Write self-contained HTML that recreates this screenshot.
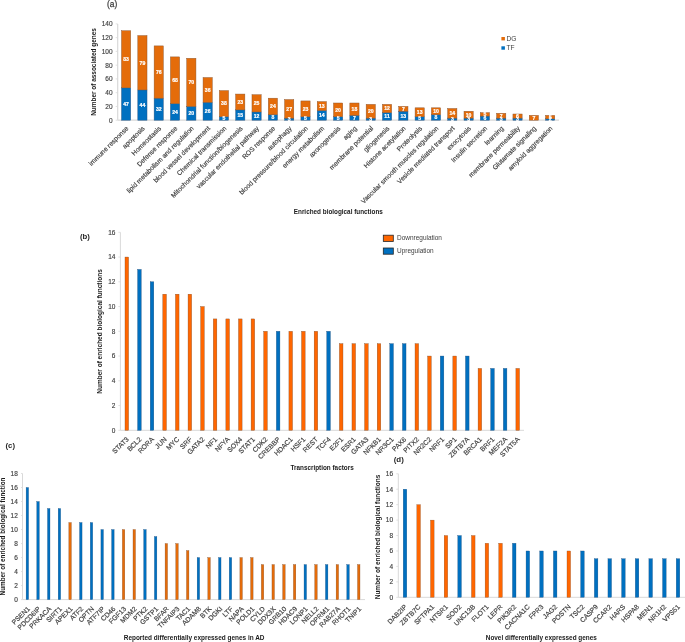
<!DOCTYPE html>
<html><head><meta charset="utf-8"><style>
html,body{margin:0;padding:0;background:#fff;}
body{width:685px;height:642px;overflow:hidden;}
svg{display:block;font-family:"Liberation Sans", sans-serif;will-change:transform;}
</style></head><body>
<svg width="685" height="642" viewBox="0 0 685 642">
<rect width="685" height="642" fill="#fff"/>
<line x1="117.70" y1="23.88" x2="117.70" y2="120.20" stroke="#d9d9d9" stroke-width="1.2"/>
<line x1="115.70" y1="120.20" x2="117.70" y2="120.20" stroke="#d9d9d9" stroke-width="0.8"/>
<text x="112.60" y="122.55" font-size="6.5" text-anchor="end" font-weight="normal" fill="#404040" stroke="#404040" stroke-width="0.15">0</text>
<line x1="115.70" y1="106.44" x2="117.70" y2="106.44" stroke="#d9d9d9" stroke-width="0.8"/>
<text x="112.60" y="108.79" font-size="6.5" text-anchor="end" font-weight="normal" fill="#404040" stroke="#404040" stroke-width="0.15">20</text>
<line x1="115.70" y1="92.68" x2="117.70" y2="92.68" stroke="#d9d9d9" stroke-width="0.8"/>
<text x="112.60" y="95.03" font-size="6.5" text-anchor="end" font-weight="normal" fill="#404040" stroke="#404040" stroke-width="0.15">40</text>
<line x1="115.70" y1="78.92" x2="117.70" y2="78.92" stroke="#d9d9d9" stroke-width="0.8"/>
<text x="112.60" y="81.27" font-size="6.5" text-anchor="end" font-weight="normal" fill="#404040" stroke="#404040" stroke-width="0.15">60</text>
<line x1="115.70" y1="65.16" x2="117.70" y2="65.16" stroke="#d9d9d9" stroke-width="0.8"/>
<text x="112.60" y="67.51" font-size="6.5" text-anchor="end" font-weight="normal" fill="#404040" stroke="#404040" stroke-width="0.15">80</text>
<line x1="115.70" y1="51.40" x2="117.70" y2="51.40" stroke="#d9d9d9" stroke-width="0.8"/>
<text x="112.60" y="53.75" font-size="6.5" text-anchor="end" font-weight="normal" fill="#404040" stroke="#404040" stroke-width="0.15">100</text>
<line x1="115.70" y1="37.64" x2="117.70" y2="37.64" stroke="#d9d9d9" stroke-width="0.8"/>
<text x="112.60" y="39.99" font-size="6.5" text-anchor="end" font-weight="normal" fill="#404040" stroke="#404040" stroke-width="0.15">120</text>
<line x1="115.70" y1="23.88" x2="117.70" y2="23.88" stroke="#d9d9d9" stroke-width="0.8"/>
<text x="112.60" y="26.23" font-size="6.5" text-anchor="end" font-weight="normal" fill="#404040" stroke="#404040" stroke-width="0.15">140</text>
<line x1="117.70" y1="120.20" x2="559.00" y2="120.20" stroke="#d9d9d9" stroke-width="1.2"/>
<rect x="121.50" y="87.86" width="9.20" height="32.34" fill="#0070C0" stroke="#2a5580" stroke-width="0.45"/>
<rect x="121.50" y="30.76" width="9.20" height="57.10" fill="#E46C0A" stroke="#8a5530" stroke-width="0.45"/>
<text x="126.10" y="105.83" font-size="5.1" text-anchor="middle" font-weight="bold" fill="#ffffff" stroke="#ffffff" stroke-width="0.2">47</text>
<text x="126.10" y="61.11" font-size="5.1" text-anchor="middle" font-weight="bold" fill="#ffffff" stroke="#ffffff" stroke-width="0.2">83</text>
<text x="0" y="0" transform="translate(128.90,128.80) rotate(-45)" font-size="6.65" text-anchor="end" font-weight="normal" fill="#404040" stroke="#404040" stroke-width="0.17">immune response</text>
<rect x="137.81" y="89.93" width="9.20" height="30.27" fill="#0070C0" stroke="#2a5580" stroke-width="0.45"/>
<rect x="137.81" y="35.58" width="9.20" height="54.35" fill="#E46C0A" stroke="#8a5530" stroke-width="0.45"/>
<text x="142.41" y="106.86" font-size="5.1" text-anchor="middle" font-weight="bold" fill="#ffffff" stroke="#ffffff" stroke-width="0.2">44</text>
<text x="142.41" y="64.55" font-size="5.1" text-anchor="middle" font-weight="bold" fill="#ffffff" stroke="#ffffff" stroke-width="0.2">79</text>
<text x="0" y="0" transform="translate(145.21,128.80) rotate(-45)" font-size="6.65" text-anchor="end" font-weight="normal" fill="#404040" stroke="#404040" stroke-width="0.17">apoptosis</text>
<rect x="154.12" y="98.18" width="9.20" height="22.02" fill="#0070C0" stroke="#2a5580" stroke-width="0.45"/>
<rect x="154.12" y="45.90" width="9.20" height="52.29" fill="#E46C0A" stroke="#8a5530" stroke-width="0.45"/>
<text x="158.72" y="110.99" font-size="5.1" text-anchor="middle" font-weight="bold" fill="#ffffff" stroke="#ffffff" stroke-width="0.2">32</text>
<text x="158.72" y="73.84" font-size="5.1" text-anchor="middle" font-weight="bold" fill="#ffffff" stroke="#ffffff" stroke-width="0.2">76</text>
<text x="0" y="0" transform="translate(161.52,128.80) rotate(-45)" font-size="6.65" text-anchor="end" font-weight="normal" fill="#404040" stroke="#404040" stroke-width="0.17">Homeostasis</text>
<rect x="170.43" y="103.69" width="9.20" height="16.51" fill="#0070C0" stroke="#2a5580" stroke-width="0.45"/>
<rect x="170.43" y="56.90" width="9.20" height="46.78" fill="#E46C0A" stroke="#8a5530" stroke-width="0.45"/>
<text x="175.03" y="113.74" font-size="5.1" text-anchor="middle" font-weight="bold" fill="#ffffff" stroke="#ffffff" stroke-width="0.2">24</text>
<text x="175.03" y="82.10" font-size="5.1" text-anchor="middle" font-weight="bold" fill="#ffffff" stroke="#ffffff" stroke-width="0.2">68</text>
<text x="0" y="0" transform="translate(177.83,128.80) rotate(-45)" font-size="6.65" text-anchor="end" font-weight="normal" fill="#404040" stroke="#404040" stroke-width="0.17">Defense response</text>
<rect x="186.74" y="106.44" width="9.20" height="13.76" fill="#0070C0" stroke="#2a5580" stroke-width="0.45"/>
<rect x="186.74" y="58.28" width="9.20" height="48.16" fill="#E46C0A" stroke="#8a5530" stroke-width="0.45"/>
<text x="191.34" y="115.12" font-size="5.1" text-anchor="middle" font-weight="bold" fill="#ffffff" stroke="#ffffff" stroke-width="0.2">20</text>
<text x="191.34" y="84.16" font-size="5.1" text-anchor="middle" font-weight="bold" fill="#ffffff" stroke="#ffffff" stroke-width="0.2">70</text>
<text x="0" y="0" transform="translate(194.14,128.80) rotate(-45)" font-size="6.65" text-anchor="end" font-weight="normal" fill="#404040" stroke="#404040" stroke-width="0.17">lipid metabolism and regulation</text>
<rect x="203.05" y="102.31" width="9.20" height="17.89" fill="#0070C0" stroke="#2a5580" stroke-width="0.45"/>
<rect x="203.05" y="77.54" width="9.20" height="24.77" fill="#E46C0A" stroke="#8a5530" stroke-width="0.45"/>
<text x="207.65" y="113.06" font-size="5.1" text-anchor="middle" font-weight="bold" fill="#ffffff" stroke="#ffffff" stroke-width="0.2">26</text>
<text x="207.65" y="91.73" font-size="5.1" text-anchor="middle" font-weight="bold" fill="#ffffff" stroke="#ffffff" stroke-width="0.2">36</text>
<text x="0" y="0" transform="translate(210.45,128.80) rotate(-45)" font-size="6.65" text-anchor="end" font-weight="normal" fill="#404040" stroke="#404040" stroke-width="0.17">blood vessel development</text>
<rect x="219.36" y="116.76" width="9.20" height="3.44" fill="#0070C0" stroke="#2a5580" stroke-width="0.45"/>
<rect x="219.36" y="90.62" width="9.20" height="26.14" fill="#E46C0A" stroke="#8a5530" stroke-width="0.45"/>
<text x="223.96" y="120.28" font-size="5.1" text-anchor="middle" font-weight="bold" fill="#ffffff" stroke="#ffffff" stroke-width="0.2">5</text>
<text x="223.96" y="105.49" font-size="5.1" text-anchor="middle" font-weight="bold" fill="#ffffff" stroke="#ffffff" stroke-width="0.2">38</text>
<text x="0" y="0" transform="translate(226.76,128.80) rotate(-45)" font-size="6.65" text-anchor="end" font-weight="normal" fill="#404040" stroke="#404040" stroke-width="0.17">Chemical transmission</text>
<rect x="235.67" y="109.88" width="9.20" height="10.32" fill="#0070C0" stroke="#2a5580" stroke-width="0.45"/>
<rect x="235.67" y="94.06" width="9.20" height="15.82" fill="#E46C0A" stroke="#8a5530" stroke-width="0.45"/>
<text x="240.27" y="116.84" font-size="5.1" text-anchor="middle" font-weight="bold" fill="#ffffff" stroke="#ffffff" stroke-width="0.2">15</text>
<text x="240.27" y="103.77" font-size="5.1" text-anchor="middle" font-weight="bold" fill="#ffffff" stroke="#ffffff" stroke-width="0.2">23</text>
<text x="0" y="0" transform="translate(243.07,128.80) rotate(-45)" font-size="6.65" text-anchor="end" font-weight="normal" fill="#404040" stroke="#404040" stroke-width="0.17">Mitochondrial function/biogenesis</text>
<rect x="251.98" y="111.94" width="9.20" height="8.26" fill="#0070C0" stroke="#2a5580" stroke-width="0.45"/>
<rect x="251.98" y="94.74" width="9.20" height="17.20" fill="#E46C0A" stroke="#8a5530" stroke-width="0.45"/>
<text x="256.58" y="117.87" font-size="5.1" text-anchor="middle" font-weight="bold" fill="#ffffff" stroke="#ffffff" stroke-width="0.2">12</text>
<text x="256.58" y="105.14" font-size="5.1" text-anchor="middle" font-weight="bold" fill="#ffffff" stroke="#ffffff" stroke-width="0.2">25</text>
<text x="0" y="0" transform="translate(259.38,128.80) rotate(-45)" font-size="6.65" text-anchor="end" font-weight="normal" fill="#404040" stroke="#404040" stroke-width="0.17">vascular endothelial pathway</text>
<rect x="268.29" y="114.70" width="9.20" height="5.50" fill="#0070C0" stroke="#2a5580" stroke-width="0.45"/>
<rect x="268.29" y="98.18" width="9.20" height="16.51" fill="#E46C0A" stroke="#8a5530" stroke-width="0.45"/>
<text x="272.89" y="119.25" font-size="5.1" text-anchor="middle" font-weight="bold" fill="#ffffff" stroke="#ffffff" stroke-width="0.2">8</text>
<text x="272.89" y="108.24" font-size="5.1" text-anchor="middle" font-weight="bold" fill="#ffffff" stroke="#ffffff" stroke-width="0.2">24</text>
<text x="0" y="0" transform="translate(275.69,128.80) rotate(-45)" font-size="6.65" text-anchor="end" font-weight="normal" fill="#404040" stroke="#404040" stroke-width="0.17">ROS response</text>
<rect x="284.60" y="118.14" width="9.20" height="2.06" fill="#0070C0" stroke="#2a5580" stroke-width="0.45"/>
<rect x="284.60" y="99.56" width="9.20" height="18.58" fill="#E46C0A" stroke="#8a5530" stroke-width="0.45"/>
<text x="289.20" y="120.97" font-size="5.1" text-anchor="middle" font-weight="bold" fill="#ffffff" stroke="#ffffff" stroke-width="0.2">3</text>
<text x="289.20" y="110.65" font-size="5.1" text-anchor="middle" font-weight="bold" fill="#ffffff" stroke="#ffffff" stroke-width="0.2">27</text>
<text x="0" y="0" transform="translate(292.00,128.80) rotate(-45)" font-size="6.65" text-anchor="end" font-weight="normal" fill="#404040" stroke="#404040" stroke-width="0.17">autophagy</text>
<rect x="300.91" y="116.76" width="9.20" height="3.44" fill="#0070C0" stroke="#2a5580" stroke-width="0.45"/>
<rect x="300.91" y="100.94" width="9.20" height="15.82" fill="#E46C0A" stroke="#8a5530" stroke-width="0.45"/>
<text x="305.51" y="120.28" font-size="5.1" text-anchor="middle" font-weight="bold" fill="#ffffff" stroke="#ffffff" stroke-width="0.2">5</text>
<text x="305.51" y="110.65" font-size="5.1" text-anchor="middle" font-weight="bold" fill="#ffffff" stroke="#ffffff" stroke-width="0.2">23</text>
<text x="0" y="0" transform="translate(308.31,128.80) rotate(-45)" font-size="6.65" text-anchor="end" font-weight="normal" fill="#404040" stroke="#404040" stroke-width="0.17">blood pressure/blood circulation</text>
<rect x="317.22" y="110.57" width="9.20" height="9.63" fill="#0070C0" stroke="#2a5580" stroke-width="0.45"/>
<rect x="317.22" y="101.62" width="9.20" height="8.94" fill="#E46C0A" stroke="#8a5530" stroke-width="0.45"/>
<text x="321.82" y="117.18" font-size="5.1" text-anchor="middle" font-weight="bold" fill="#ffffff" stroke="#ffffff" stroke-width="0.2">14</text>
<text x="321.82" y="107.90" font-size="5.1" text-anchor="middle" font-weight="bold" fill="#ffffff" stroke="#ffffff" stroke-width="0.2">13</text>
<text x="0" y="0" transform="translate(324.62,128.80) rotate(-45)" font-size="6.65" text-anchor="end" font-weight="normal" fill="#404040" stroke="#404040" stroke-width="0.17">energy metabolism</text>
<rect x="333.53" y="116.76" width="9.20" height="3.44" fill="#0070C0" stroke="#2a5580" stroke-width="0.45"/>
<rect x="333.53" y="103.00" width="9.20" height="13.76" fill="#E46C0A" stroke="#8a5530" stroke-width="0.45"/>
<text x="338.13" y="120.28" font-size="5.1" text-anchor="middle" font-weight="bold" fill="#ffffff" stroke="#ffffff" stroke-width="0.2">5</text>
<text x="338.13" y="111.68" font-size="5.1" text-anchor="middle" font-weight="bold" fill="#ffffff" stroke="#ffffff" stroke-width="0.2">20</text>
<text x="0" y="0" transform="translate(340.93,128.80) rotate(-45)" font-size="6.65" text-anchor="end" font-weight="normal" fill="#404040" stroke="#404040" stroke-width="0.17">axonogenesis</text>
<rect x="349.84" y="115.38" width="9.20" height="4.82" fill="#0070C0" stroke="#2a5580" stroke-width="0.45"/>
<rect x="349.84" y="103.00" width="9.20" height="12.38" fill="#E46C0A" stroke="#8a5530" stroke-width="0.45"/>
<text x="354.44" y="119.59" font-size="5.1" text-anchor="middle" font-weight="bold" fill="#ffffff" stroke="#ffffff" stroke-width="0.2">7</text>
<text x="354.44" y="110.99" font-size="5.1" text-anchor="middle" font-weight="bold" fill="#ffffff" stroke="#ffffff" stroke-width="0.2">18</text>
<text x="0" y="0" transform="translate(357.24,128.80) rotate(-45)" font-size="6.65" text-anchor="end" font-weight="normal" fill="#404040" stroke="#404040" stroke-width="0.17">aging</text>
<rect x="366.15" y="118.14" width="9.20" height="2.06" fill="#0070C0" stroke="#2a5580" stroke-width="0.45"/>
<rect x="366.15" y="104.38" width="9.20" height="13.76" fill="#E46C0A" stroke="#8a5530" stroke-width="0.45"/>
<text x="370.75" y="120.97" font-size="5.1" text-anchor="middle" font-weight="bold" fill="#ffffff" stroke="#ffffff" stroke-width="0.2">3</text>
<text x="370.75" y="113.06" font-size="5.1" text-anchor="middle" font-weight="bold" fill="#ffffff" stroke="#ffffff" stroke-width="0.2">20</text>
<text x="0" y="0" transform="translate(373.55,128.80) rotate(-45)" font-size="6.65" text-anchor="end" font-weight="normal" fill="#404040" stroke="#404040" stroke-width="0.17">membrane potential</text>
<rect x="382.46" y="112.63" width="9.20" height="7.57" fill="#0070C0" stroke="#2a5580" stroke-width="0.45"/>
<rect x="382.46" y="104.38" width="9.20" height="8.26" fill="#E46C0A" stroke="#8a5530" stroke-width="0.45"/>
<text x="387.06" y="118.22" font-size="5.1" text-anchor="middle" font-weight="bold" fill="#ffffff" stroke="#ffffff" stroke-width="0.2">11</text>
<text x="387.06" y="110.30" font-size="5.1" text-anchor="middle" font-weight="bold" fill="#ffffff" stroke="#ffffff" stroke-width="0.2">12</text>
<text x="0" y="0" transform="translate(389.86,128.80) rotate(-45)" font-size="6.65" text-anchor="end" font-weight="normal" fill="#404040" stroke="#404040" stroke-width="0.17">gliogenesis</text>
<rect x="398.77" y="111.26" width="9.20" height="8.94" fill="#0070C0" stroke="#2a5580" stroke-width="0.45"/>
<rect x="398.77" y="106.44" width="9.20" height="4.82" fill="#E46C0A" stroke="#8a5530" stroke-width="0.45"/>
<text x="403.37" y="117.53" font-size="5.1" text-anchor="middle" font-weight="bold" fill="#ffffff" stroke="#ffffff" stroke-width="0.2">13</text>
<text x="403.37" y="110.65" font-size="5.1" text-anchor="middle" font-weight="bold" fill="#ffffff" stroke="#ffffff" stroke-width="0.2">7</text>
<text x="0" y="0" transform="translate(406.17,128.80) rotate(-45)" font-size="6.65" text-anchor="end" font-weight="normal" fill="#404040" stroke="#404040" stroke-width="0.17">Histone acetylation</text>
<rect x="415.08" y="116.76" width="9.20" height="3.44" fill="#0070C0" stroke="#2a5580" stroke-width="0.45"/>
<rect x="415.08" y="107.82" width="9.20" height="8.94" fill="#E46C0A" stroke="#8a5530" stroke-width="0.45"/>
<text x="419.68" y="120.28" font-size="5.1" text-anchor="middle" font-weight="bold" fill="#ffffff" stroke="#ffffff" stroke-width="0.2">5</text>
<text x="419.68" y="114.09" font-size="5.1" text-anchor="middle" font-weight="bold" fill="#ffffff" stroke="#ffffff" stroke-width="0.2">13</text>
<text x="0" y="0" transform="translate(422.48,128.80) rotate(-45)" font-size="6.65" text-anchor="end" font-weight="normal" fill="#404040" stroke="#404040" stroke-width="0.17">Proteolysis</text>
<rect x="431.39" y="114.70" width="9.20" height="5.50" fill="#0070C0" stroke="#2a5580" stroke-width="0.45"/>
<rect x="431.39" y="107.82" width="9.20" height="6.88" fill="#E46C0A" stroke="#8a5530" stroke-width="0.45"/>
<text x="435.99" y="119.25" font-size="5.1" text-anchor="middle" font-weight="bold" fill="#ffffff" stroke="#ffffff" stroke-width="0.2">8</text>
<text x="435.99" y="113.06" font-size="5.1" text-anchor="middle" font-weight="bold" fill="#ffffff" stroke="#ffffff" stroke-width="0.2">10</text>
<text x="0" y="0" transform="translate(438.79,128.80) rotate(-45)" font-size="6.65" text-anchor="end" font-weight="normal" fill="#404040" stroke="#404040" stroke-width="0.17">Vascular smooth muscles regulation</text>
<rect x="447.70" y="118.14" width="9.20" height="2.06" fill="#0070C0" stroke="#2a5580" stroke-width="0.45"/>
<rect x="447.70" y="108.50" width="9.20" height="9.63" fill="#E46C0A" stroke="#8a5530" stroke-width="0.45"/>
<text x="452.30" y="120.97" font-size="5.1" text-anchor="middle" font-weight="bold" fill="#ffffff" stroke="#ffffff" stroke-width="0.2">3</text>
<text x="452.30" y="115.12" font-size="5.1" text-anchor="middle" font-weight="bold" fill="#ffffff" stroke="#ffffff" stroke-width="0.2">14</text>
<text x="0" y="0" transform="translate(455.10,128.80) rotate(-45)" font-size="6.65" text-anchor="end" font-weight="normal" fill="#404040" stroke="#404040" stroke-width="0.17">Vesicle mediated transport</text>
<rect x="464.01" y="118.14" width="9.20" height="2.06" fill="#0070C0" stroke="#2a5580" stroke-width="0.45"/>
<rect x="464.01" y="111.26" width="9.20" height="6.88" fill="#E46C0A" stroke="#8a5530" stroke-width="0.45"/>
<text x="468.61" y="120.97" font-size="5.1" text-anchor="middle" font-weight="bold" fill="#ffffff" stroke="#ffffff" stroke-width="0.2">3</text>
<text x="468.61" y="116.50" font-size="5.1" text-anchor="middle" font-weight="bold" fill="#ffffff" stroke="#ffffff" stroke-width="0.2">10</text>
<text x="0" y="0" transform="translate(471.41,128.80) rotate(-45)" font-size="6.65" text-anchor="end" font-weight="normal" fill="#404040" stroke="#404040" stroke-width="0.17">exocytosis</text>
<rect x="480.32" y="116.07" width="9.20" height="4.13" fill="#0070C0" stroke="#2a5580" stroke-width="0.45"/>
<rect x="480.32" y="112.63" width="9.20" height="3.44" fill="#E46C0A" stroke="#8a5530" stroke-width="0.45"/>
<text x="484.92" y="119.94" font-size="5.1" text-anchor="middle" font-weight="bold" fill="#ffffff" stroke="#ffffff" stroke-width="0.2">6</text>
<text x="484.92" y="116.15" font-size="5.1" text-anchor="middle" font-weight="bold" fill="#ffffff" stroke="#ffffff" stroke-width="0.2">5</text>
<text x="0" y="0" transform="translate(487.72,128.80) rotate(-45)" font-size="6.65" text-anchor="end" font-weight="normal" fill="#404040" stroke="#404040" stroke-width="0.17">Insulin secretion</text>
<rect x="496.63" y="118.14" width="9.20" height="2.06" fill="#0070C0" stroke="#2a5580" stroke-width="0.45"/>
<rect x="496.63" y="113.32" width="9.20" height="4.82" fill="#E46C0A" stroke="#8a5530" stroke-width="0.45"/>
<text x="501.23" y="120.97" font-size="5.1" text-anchor="middle" font-weight="bold" fill="#ffffff" stroke="#ffffff" stroke-width="0.2">3</text>
<text x="501.23" y="117.53" font-size="5.1" text-anchor="middle" font-weight="bold" fill="#ffffff" stroke="#ffffff" stroke-width="0.2">7</text>
<text x="0" y="0" transform="translate(504.03,128.80) rotate(-45)" font-size="6.65" text-anchor="end" font-weight="normal" fill="#404040" stroke="#404040" stroke-width="0.17">learning</text>
<rect x="512.94" y="118.14" width="9.20" height="2.06" fill="#0070C0" stroke="#2a5580" stroke-width="0.45"/>
<rect x="512.94" y="114.01" width="9.20" height="4.13" fill="#E46C0A" stroke="#8a5530" stroke-width="0.45"/>
<text x="517.54" y="120.97" font-size="5.1" text-anchor="middle" font-weight="bold" fill="#ffffff" stroke="#ffffff" stroke-width="0.2">3</text>
<text x="517.54" y="117.87" font-size="5.1" text-anchor="middle" font-weight="bold" fill="#ffffff" stroke="#ffffff" stroke-width="0.2">6</text>
<text x="0" y="0" transform="translate(520.34,128.80) rotate(-45)" font-size="6.65" text-anchor="end" font-weight="normal" fill="#404040" stroke="#404040" stroke-width="0.17">membrane permeability</text>
<rect x="529.25" y="120.20" width="9.20" height="0.00" fill="#0070C0" stroke="#2a5580" stroke-width="0.45"/>
<rect x="529.25" y="115.38" width="9.20" height="4.82" fill="#E46C0A" stroke="#8a5530" stroke-width="0.45"/>
<text x="533.85" y="119.59" font-size="5.1" text-anchor="middle" font-weight="bold" fill="#ffffff" stroke="#ffffff" stroke-width="0.2">7</text>
<text x="0" y="0" transform="translate(536.65,128.80) rotate(-45)" font-size="6.65" text-anchor="end" font-weight="normal" fill="#404040" stroke="#404040" stroke-width="0.17">Glutamate signaling</text>
<rect x="545.56" y="118.82" width="9.20" height="1.38" fill="#0070C0" stroke="#2a5580" stroke-width="0.45"/>
<rect x="545.56" y="115.38" width="9.20" height="3.44" fill="#E46C0A" stroke="#8a5530" stroke-width="0.45"/>
<text x="550.16" y="121.31" font-size="5.1" text-anchor="middle" font-weight="bold" fill="#ffffff" stroke="#ffffff" stroke-width="0.2">2</text>
<text x="550.16" y="118.90" font-size="5.1" text-anchor="middle" font-weight="bold" fill="#ffffff" stroke="#ffffff" stroke-width="0.2">5</text>
<text x="0" y="0" transform="translate(552.96,128.80) rotate(-45)" font-size="6.65" text-anchor="end" font-weight="normal" fill="#404040" stroke="#404040" stroke-width="0.17">amyloid aggregation</text>
<text x="0" y="0" transform="translate(95.80,72.00) rotate(-90)" font-size="6.45" text-anchor="middle" font-weight="bold" fill="#1a1a1a">Number of associated genes</text>
<text x="338.30" y="214.00" font-size="6.36" text-anchor="middle" font-weight="bold" fill="#1a1a1a">Enriched biological functions</text>
<text x="107.00" y="7.00" font-size="9.3" text-anchor="start" font-weight="normal" fill="#383838" stroke="#383838" stroke-width="0.25" textLength="10.2" lengthAdjust="spacingAndGlyphs">(a)</text>
<rect x="501.40" y="37.00" width="3.50" height="3.40" fill="#E46C0A"/>
<text x="506.60" y="40.60" font-size="6.6" text-anchor="start" font-weight="normal" fill="#404040">DG</text>
<rect x="501.40" y="46.30" width="3.50" height="3.40" fill="#0070C0"/>
<text x="506.60" y="50.00" font-size="6.6" text-anchor="start" font-weight="normal" fill="#404040">TF</text>
<line x1="120.40" y1="232.30" x2="120.40" y2="430.30" stroke="#d9d9d9" stroke-width="1"/>
<line x1="118.40" y1="430.30" x2="120.40" y2="430.30" stroke="#d9d9d9" stroke-width="0.8"/>
<text x="115.40" y="432.65" font-size="6.5" text-anchor="end" font-weight="normal" fill="#404040" stroke="#404040" stroke-width="0.15">0</text>
<line x1="118.40" y1="405.55" x2="120.40" y2="405.55" stroke="#d9d9d9" stroke-width="0.8"/>
<text x="115.40" y="407.90" font-size="6.5" text-anchor="end" font-weight="normal" fill="#404040" stroke="#404040" stroke-width="0.15">2</text>
<line x1="118.40" y1="380.80" x2="120.40" y2="380.80" stroke="#d9d9d9" stroke-width="0.8"/>
<text x="115.40" y="383.15" font-size="6.5" text-anchor="end" font-weight="normal" fill="#404040" stroke="#404040" stroke-width="0.15">4</text>
<line x1="118.40" y1="356.05" x2="120.40" y2="356.05" stroke="#d9d9d9" stroke-width="0.8"/>
<text x="115.40" y="358.40" font-size="6.5" text-anchor="end" font-weight="normal" fill="#404040" stroke="#404040" stroke-width="0.15">6</text>
<line x1="118.40" y1="331.30" x2="120.40" y2="331.30" stroke="#d9d9d9" stroke-width="0.8"/>
<text x="115.40" y="333.65" font-size="6.5" text-anchor="end" font-weight="normal" fill="#404040" stroke="#404040" stroke-width="0.15">8</text>
<line x1="118.40" y1="306.55" x2="120.40" y2="306.55" stroke="#d9d9d9" stroke-width="0.8"/>
<text x="115.40" y="308.90" font-size="6.5" text-anchor="end" font-weight="normal" fill="#404040" stroke="#404040" stroke-width="0.15">10</text>
<line x1="118.40" y1="281.80" x2="120.40" y2="281.80" stroke="#d9d9d9" stroke-width="0.8"/>
<text x="115.40" y="284.15" font-size="6.5" text-anchor="end" font-weight="normal" fill="#404040" stroke="#404040" stroke-width="0.15">12</text>
<line x1="118.40" y1="257.05" x2="120.40" y2="257.05" stroke="#d9d9d9" stroke-width="0.8"/>
<text x="115.40" y="259.40" font-size="6.5" text-anchor="end" font-weight="normal" fill="#404040" stroke="#404040" stroke-width="0.15">14</text>
<line x1="118.40" y1="232.30" x2="120.40" y2="232.30" stroke="#d9d9d9" stroke-width="0.8"/>
<text x="115.40" y="234.65" font-size="6.5" text-anchor="end" font-weight="normal" fill="#404040" stroke="#404040" stroke-width="0.15">16</text>
<line x1="120.40" y1="430.30" x2="524.00" y2="430.30" stroke="#d9d9d9" stroke-width="1"/>
<rect x="125.00" y="257.05" width="3.60" height="173.25" fill="#FF6600" stroke="#7a4a2a" stroke-width="0.35"/>
<text x="0" y="0" transform="translate(129.30,439.80) rotate(-45)" font-size="6.8" text-anchor="end" font-weight="normal" fill="#404040" stroke="#404040" stroke-width="0.17">STAT3</text>
<rect x="137.61" y="269.43" width="3.60" height="160.88" fill="#0070C0" stroke="#1a4a7a" stroke-width="0.35"/>
<text x="0" y="0" transform="translate(141.91,439.80) rotate(-45)" font-size="6.8" text-anchor="end" font-weight="normal" fill="#404040" stroke="#404040" stroke-width="0.17">BCL2</text>
<rect x="150.22" y="281.80" width="3.60" height="148.50" fill="#0070C0" stroke="#1a4a7a" stroke-width="0.35"/>
<text x="0" y="0" transform="translate(154.52,439.80) rotate(-45)" font-size="6.8" text-anchor="end" font-weight="normal" fill="#404040" stroke="#404040" stroke-width="0.17">RORA</text>
<rect x="162.83" y="294.18" width="3.60" height="136.12" fill="#FF6600" stroke="#7a4a2a" stroke-width="0.35"/>
<text x="0" y="0" transform="translate(167.13,439.80) rotate(-45)" font-size="6.8" text-anchor="end" font-weight="normal" fill="#404040" stroke="#404040" stroke-width="0.17">JUN</text>
<rect x="175.44" y="294.18" width="3.60" height="136.12" fill="#FF6600" stroke="#7a4a2a" stroke-width="0.35"/>
<text x="0" y="0" transform="translate(179.74,439.80) rotate(-45)" font-size="6.8" text-anchor="end" font-weight="normal" fill="#404040" stroke="#404040" stroke-width="0.17">MYC</text>
<rect x="188.05" y="294.18" width="3.60" height="136.12" fill="#FF6600" stroke="#7a4a2a" stroke-width="0.35"/>
<text x="0" y="0" transform="translate(192.35,439.80) rotate(-45)" font-size="6.8" text-anchor="end" font-weight="normal" fill="#404040" stroke="#404040" stroke-width="0.17">SRF</text>
<rect x="200.66" y="306.55" width="3.60" height="123.75" fill="#FF6600" stroke="#7a4a2a" stroke-width="0.35"/>
<text x="0" y="0" transform="translate(204.96,439.80) rotate(-45)" font-size="6.8" text-anchor="end" font-weight="normal" fill="#404040" stroke="#404040" stroke-width="0.17">GATA2</text>
<rect x="213.27" y="318.93" width="3.60" height="111.38" fill="#FF6600" stroke="#7a4a2a" stroke-width="0.35"/>
<text x="0" y="0" transform="translate(217.57,439.80) rotate(-45)" font-size="6.8" text-anchor="end" font-weight="normal" fill="#404040" stroke="#404040" stroke-width="0.17">NF1</text>
<rect x="225.88" y="318.93" width="3.60" height="111.38" fill="#FF6600" stroke="#7a4a2a" stroke-width="0.35"/>
<text x="0" y="0" transform="translate(230.18,439.80) rotate(-45)" font-size="6.8" text-anchor="end" font-weight="normal" fill="#404040" stroke="#404040" stroke-width="0.17">NFYA</text>
<rect x="238.49" y="318.93" width="3.60" height="111.38" fill="#FF6600" stroke="#7a4a2a" stroke-width="0.35"/>
<text x="0" y="0" transform="translate(242.79,439.80) rotate(-45)" font-size="6.8" text-anchor="end" font-weight="normal" fill="#404040" stroke="#404040" stroke-width="0.17">SOX4</text>
<rect x="251.10" y="318.93" width="3.60" height="111.38" fill="#FF6600" stroke="#7a4a2a" stroke-width="0.35"/>
<text x="0" y="0" transform="translate(255.40,439.80) rotate(-45)" font-size="6.8" text-anchor="end" font-weight="normal" fill="#404040" stroke="#404040" stroke-width="0.17">STAT1</text>
<rect x="263.71" y="331.30" width="3.60" height="99.00" fill="#FF6600" stroke="#7a4a2a" stroke-width="0.35"/>
<text x="0" y="0" transform="translate(268.01,439.80) rotate(-45)" font-size="6.8" text-anchor="end" font-weight="normal" fill="#404040" stroke="#404040" stroke-width="0.17">CDK2</text>
<rect x="276.32" y="331.30" width="3.60" height="99.00" fill="#0070C0" stroke="#1a4a7a" stroke-width="0.35"/>
<text x="0" y="0" transform="translate(280.62,439.80) rotate(-45)" font-size="6.8" text-anchor="end" font-weight="normal" fill="#404040" stroke="#404040" stroke-width="0.17">CREBBP</text>
<rect x="288.93" y="331.30" width="3.60" height="99.00" fill="#FF6600" stroke="#7a4a2a" stroke-width="0.35"/>
<text x="0" y="0" transform="translate(293.23,439.80) rotate(-45)" font-size="6.8" text-anchor="end" font-weight="normal" fill="#404040" stroke="#404040" stroke-width="0.17">HDAC1</text>
<rect x="301.54" y="331.30" width="3.60" height="99.00" fill="#FF6600" stroke="#7a4a2a" stroke-width="0.35"/>
<text x="0" y="0" transform="translate(305.84,439.80) rotate(-45)" font-size="6.8" text-anchor="end" font-weight="normal" fill="#404040" stroke="#404040" stroke-width="0.17">HSF1</text>
<rect x="314.15" y="331.30" width="3.60" height="99.00" fill="#FF6600" stroke="#7a4a2a" stroke-width="0.35"/>
<text x="0" y="0" transform="translate(318.45,439.80) rotate(-45)" font-size="6.8" text-anchor="end" font-weight="normal" fill="#404040" stroke="#404040" stroke-width="0.17">REST</text>
<rect x="326.76" y="331.30" width="3.60" height="99.00" fill="#0070C0" stroke="#1a4a7a" stroke-width="0.35"/>
<text x="0" y="0" transform="translate(331.06,439.80) rotate(-45)" font-size="6.8" text-anchor="end" font-weight="normal" fill="#404040" stroke="#404040" stroke-width="0.17">TCF4</text>
<rect x="339.37" y="343.68" width="3.60" height="86.62" fill="#FF6600" stroke="#7a4a2a" stroke-width="0.35"/>
<text x="0" y="0" transform="translate(343.67,439.80) rotate(-45)" font-size="6.8" text-anchor="end" font-weight="normal" fill="#404040" stroke="#404040" stroke-width="0.17">E2F1</text>
<rect x="351.98" y="343.68" width="3.60" height="86.62" fill="#FF6600" stroke="#7a4a2a" stroke-width="0.35"/>
<text x="0" y="0" transform="translate(356.28,439.80) rotate(-45)" font-size="6.8" text-anchor="end" font-weight="normal" fill="#404040" stroke="#404040" stroke-width="0.17">ESR1</text>
<rect x="364.59" y="343.68" width="3.60" height="86.62" fill="#FF6600" stroke="#7a4a2a" stroke-width="0.35"/>
<text x="0" y="0" transform="translate(368.89,439.80) rotate(-45)" font-size="6.8" text-anchor="end" font-weight="normal" fill="#404040" stroke="#404040" stroke-width="0.17">GATA3</text>
<rect x="377.20" y="343.68" width="3.60" height="86.62" fill="#FF6600" stroke="#7a4a2a" stroke-width="0.35"/>
<text x="0" y="0" transform="translate(381.50,439.80) rotate(-45)" font-size="6.8" text-anchor="end" font-weight="normal" fill="#404040" stroke="#404040" stroke-width="0.17">NFKB1</text>
<rect x="389.81" y="343.68" width="3.60" height="86.62" fill="#0070C0" stroke="#1a4a7a" stroke-width="0.35"/>
<text x="0" y="0" transform="translate(394.11,439.80) rotate(-45)" font-size="6.8" text-anchor="end" font-weight="normal" fill="#404040" stroke="#404040" stroke-width="0.17">NR3C1</text>
<rect x="402.42" y="343.68" width="3.60" height="86.62" fill="#0070C0" stroke="#1a4a7a" stroke-width="0.35"/>
<text x="0" y="0" transform="translate(406.72,439.80) rotate(-45)" font-size="6.8" text-anchor="end" font-weight="normal" fill="#404040" stroke="#404040" stroke-width="0.17">PAX6</text>
<rect x="415.03" y="343.68" width="3.60" height="86.62" fill="#FF6600" stroke="#7a4a2a" stroke-width="0.35"/>
<text x="0" y="0" transform="translate(419.33,439.80) rotate(-45)" font-size="6.8" text-anchor="end" font-weight="normal" fill="#404040" stroke="#404040" stroke-width="0.17">PITX2</text>
<rect x="427.64" y="356.05" width="3.60" height="74.25" fill="#FF6600" stroke="#7a4a2a" stroke-width="0.35"/>
<text x="0" y="0" transform="translate(431.94,439.80) rotate(-45)" font-size="6.8" text-anchor="end" font-weight="normal" fill="#404040" stroke="#404040" stroke-width="0.17">NR2C2</text>
<rect x="440.25" y="356.05" width="3.60" height="74.25" fill="#0070C0" stroke="#1a4a7a" stroke-width="0.35"/>
<text x="0" y="0" transform="translate(444.55,439.80) rotate(-45)" font-size="6.8" text-anchor="end" font-weight="normal" fill="#404040" stroke="#404040" stroke-width="0.17">NRF1</text>
<rect x="452.86" y="356.05" width="3.60" height="74.25" fill="#FF6600" stroke="#7a4a2a" stroke-width="0.35"/>
<text x="0" y="0" transform="translate(457.16,439.80) rotate(-45)" font-size="6.8" text-anchor="end" font-weight="normal" fill="#404040" stroke="#404040" stroke-width="0.17">SP1</text>
<rect x="465.47" y="356.05" width="3.60" height="74.25" fill="#0070C0" stroke="#1a4a7a" stroke-width="0.35"/>
<text x="0" y="0" transform="translate(469.77,439.80) rotate(-45)" font-size="6.8" text-anchor="end" font-weight="normal" fill="#404040" stroke="#404040" stroke-width="0.17">ZBTB7A</text>
<rect x="478.08" y="368.43" width="3.60" height="61.88" fill="#FF6600" stroke="#7a4a2a" stroke-width="0.35"/>
<text x="0" y="0" transform="translate(482.38,439.80) rotate(-45)" font-size="6.8" text-anchor="end" font-weight="normal" fill="#404040" stroke="#404040" stroke-width="0.17">BRCA1</text>
<rect x="490.69" y="368.43" width="3.60" height="61.88" fill="#0070C0" stroke="#1a4a7a" stroke-width="0.35"/>
<text x="0" y="0" transform="translate(494.99,439.80) rotate(-45)" font-size="6.8" text-anchor="end" font-weight="normal" fill="#404040" stroke="#404040" stroke-width="0.17">BRF1</text>
<rect x="503.30" y="368.43" width="3.60" height="61.88" fill="#0070C0" stroke="#1a4a7a" stroke-width="0.35"/>
<text x="0" y="0" transform="translate(507.60,439.80) rotate(-45)" font-size="6.8" text-anchor="end" font-weight="normal" fill="#404040" stroke="#404040" stroke-width="0.17">MEF2A</text>
<rect x="515.91" y="368.43" width="3.60" height="61.88" fill="#FF6600" stroke="#7a4a2a" stroke-width="0.35"/>
<text x="0" y="0" transform="translate(520.21,439.80) rotate(-45)" font-size="6.8" text-anchor="end" font-weight="normal" fill="#404040" stroke="#404040" stroke-width="0.17">STAT5A</text>
<text x="0" y="0" transform="translate(102.10,331.40) rotate(-90)" font-size="6.5" text-anchor="middle" font-weight="bold" fill="#1a1a1a">Number of enriched biological functions</text>
<text x="322.10" y="470.00" font-size="6.37" text-anchor="middle" font-weight="bold" fill="#1a1a1a">Transcription factors</text>
<text x="80.00" y="238.90" font-size="7.8" text-anchor="start" font-weight="bold" fill="#262626">(b)</text>
<rect x="383.30" y="235.20" width="10.00" height="6.20" fill="#FF6600" stroke="#262626" stroke-width="0.8"/>
<text x="397.00" y="240.40" font-size="6.48" text-anchor="start" font-weight="normal" fill="#404040">Downregulation</text>
<rect x="383.30" y="248.00" width="10.00" height="6.20" fill="#0070C0" stroke="#262626" stroke-width="0.8"/>
<text x="397.00" y="253.20" font-size="6.48" text-anchor="start" font-weight="normal" fill="#404040">Upregulation</text>
<line x1="22.50" y1="473.49" x2="22.50" y2="599.60" stroke="#d9d9d9" stroke-width="1"/>
<line x1="21.00" y1="599.60" x2="22.50" y2="599.60" stroke="#d9d9d9" stroke-width="0.8"/>
<text x="17.80" y="601.95" font-size="6.5" text-anchor="end" font-weight="normal" fill="#404040" stroke="#404040" stroke-width="0.15">0</text>
<line x1="21.00" y1="585.59" x2="22.50" y2="585.59" stroke="#d9d9d9" stroke-width="0.8"/>
<text x="17.80" y="587.94" font-size="6.5" text-anchor="end" font-weight="normal" fill="#404040" stroke="#404040" stroke-width="0.15">2</text>
<line x1="21.00" y1="571.58" x2="22.50" y2="571.58" stroke="#d9d9d9" stroke-width="0.8"/>
<text x="17.80" y="573.93" font-size="6.5" text-anchor="end" font-weight="normal" fill="#404040" stroke="#404040" stroke-width="0.15">4</text>
<line x1="21.00" y1="557.56" x2="22.50" y2="557.56" stroke="#d9d9d9" stroke-width="0.8"/>
<text x="17.80" y="559.91" font-size="6.5" text-anchor="end" font-weight="normal" fill="#404040" stroke="#404040" stroke-width="0.15">6</text>
<line x1="21.00" y1="543.55" x2="22.50" y2="543.55" stroke="#d9d9d9" stroke-width="0.8"/>
<text x="17.80" y="545.90" font-size="6.5" text-anchor="end" font-weight="normal" fill="#404040" stroke="#404040" stroke-width="0.15">8</text>
<line x1="21.00" y1="529.54" x2="22.50" y2="529.54" stroke="#d9d9d9" stroke-width="0.8"/>
<text x="17.80" y="531.89" font-size="6.5" text-anchor="end" font-weight="normal" fill="#404040" stroke="#404040" stroke-width="0.15">10</text>
<line x1="21.00" y1="515.53" x2="22.50" y2="515.53" stroke="#d9d9d9" stroke-width="0.8"/>
<text x="17.80" y="517.88" font-size="6.5" text-anchor="end" font-weight="normal" fill="#404040" stroke="#404040" stroke-width="0.15">12</text>
<line x1="21.00" y1="501.52" x2="22.50" y2="501.52" stroke="#d9d9d9" stroke-width="0.8"/>
<text x="17.80" y="503.87" font-size="6.5" text-anchor="end" font-weight="normal" fill="#404040" stroke="#404040" stroke-width="0.15">14</text>
<line x1="21.00" y1="487.50" x2="22.50" y2="487.50" stroke="#d9d9d9" stroke-width="0.8"/>
<text x="17.80" y="489.85" font-size="6.5" text-anchor="end" font-weight="normal" fill="#404040" stroke="#404040" stroke-width="0.15">16</text>
<line x1="21.00" y1="473.49" x2="22.50" y2="473.49" stroke="#d9d9d9" stroke-width="0.8"/>
<text x="17.80" y="475.84" font-size="6.5" text-anchor="end" font-weight="normal" fill="#404040" stroke="#404040" stroke-width="0.15">18</text>
<line x1="22.50" y1="599.60" x2="365.00" y2="599.60" stroke="#d9d9d9" stroke-width="1"/>
<rect x="26.10" y="487.50" width="2.50" height="112.10" fill="#0070C0" stroke="#1a4a7a" stroke-width="0.3"/>
<text x="0" y="0" transform="translate(30.35,609.30) rotate(-45)" font-size="6.8" text-anchor="end" font-weight="normal" fill="#404040" stroke="#404040" stroke-width="0.17">PSEN1</text>
<rect x="36.79" y="501.52" width="2.50" height="98.08" fill="#0070C0" stroke="#1a4a7a" stroke-width="0.3"/>
<text x="0" y="0" transform="translate(41.04,609.30) rotate(-45)" font-size="6.8" text-anchor="end" font-weight="normal" fill="#404040" stroke="#404040" stroke-width="0.17">PDCD6IP</text>
<rect x="47.48" y="508.52" width="2.50" height="91.08" fill="#0070C0" stroke="#1a4a7a" stroke-width="0.3"/>
<text x="0" y="0" transform="translate(51.73,609.30) rotate(-45)" font-size="6.8" text-anchor="end" font-weight="normal" fill="#404040" stroke="#404040" stroke-width="0.17">PRKACA</text>
<rect x="58.17" y="508.52" width="2.50" height="91.08" fill="#0070C0" stroke="#1a4a7a" stroke-width="0.3"/>
<text x="0" y="0" transform="translate(62.42,609.30) rotate(-45)" font-size="6.8" text-anchor="end" font-weight="normal" fill="#404040" stroke="#404040" stroke-width="0.17">SIRT1</text>
<rect x="68.86" y="522.53" width="2.50" height="77.07" fill="#E46C0A" stroke="#7a4a2a" stroke-width="0.3"/>
<text x="0" y="0" transform="translate(73.11,609.30) rotate(-45)" font-size="6.8" text-anchor="end" font-weight="normal" fill="#404040" stroke="#404040" stroke-width="0.17">APEX1</text>
<rect x="79.55" y="522.53" width="2.50" height="77.07" fill="#0070C0" stroke="#1a4a7a" stroke-width="0.3"/>
<text x="0" y="0" transform="translate(83.80,609.30) rotate(-45)" font-size="6.8" text-anchor="end" font-weight="normal" fill="#404040" stroke="#404040" stroke-width="0.17">ATF2</text>
<rect x="90.24" y="522.53" width="2.50" height="77.07" fill="#0070C0" stroke="#1a4a7a" stroke-width="0.3"/>
<text x="0" y="0" transform="translate(94.49,609.30) rotate(-45)" font-size="6.8" text-anchor="end" font-weight="normal" fill="#404040" stroke="#404040" stroke-width="0.17">OPTN</text>
<rect x="100.93" y="529.54" width="2.50" height="70.06" fill="#0070C0" stroke="#1a4a7a" stroke-width="0.3"/>
<text x="0" y="0" transform="translate(105.18,609.30) rotate(-45)" font-size="6.8" text-anchor="end" font-weight="normal" fill="#404040" stroke="#404040" stroke-width="0.17">ATF7IP</text>
<rect x="111.62" y="529.54" width="2.50" height="70.06" fill="#0070C0" stroke="#1a4a7a" stroke-width="0.3"/>
<text x="0" y="0" transform="translate(115.87,609.30) rotate(-45)" font-size="6.8" text-anchor="end" font-weight="normal" fill="#404040" stroke="#404040" stroke-width="0.17">CD46</text>
<rect x="122.31" y="529.54" width="2.50" height="70.06" fill="#E46C0A" stroke="#7a4a2a" stroke-width="0.3"/>
<text x="0" y="0" transform="translate(126.56,609.30) rotate(-45)" font-size="6.8" text-anchor="end" font-weight="normal" fill="#404040" stroke="#404040" stroke-width="0.17">FGF13</text>
<rect x="133.00" y="529.54" width="2.50" height="70.06" fill="#E46C0A" stroke="#7a4a2a" stroke-width="0.3"/>
<text x="0" y="0" transform="translate(137.25,609.30) rotate(-45)" font-size="6.8" text-anchor="end" font-weight="normal" fill="#404040" stroke="#404040" stroke-width="0.17">MDM2</text>
<rect x="143.69" y="529.54" width="2.50" height="70.06" fill="#0070C0" stroke="#1a4a7a" stroke-width="0.3"/>
<text x="0" y="0" transform="translate(147.94,609.30) rotate(-45)" font-size="6.8" text-anchor="end" font-weight="normal" fill="#404040" stroke="#404040" stroke-width="0.17">PTK2</text>
<rect x="154.38" y="536.55" width="2.50" height="63.05" fill="#0070C0" stroke="#1a4a7a" stroke-width="0.3"/>
<text x="0" y="0" transform="translate(158.63,609.30) rotate(-45)" font-size="6.8" text-anchor="end" font-weight="normal" fill="#404040" stroke="#404040" stroke-width="0.17">GSTP1</text>
<rect x="165.07" y="543.55" width="2.50" height="56.05" fill="#E46C0A" stroke="#7a4a2a" stroke-width="0.3"/>
<text x="0" y="0" transform="translate(169.32,609.30) rotate(-45)" font-size="6.8" text-anchor="end" font-weight="normal" fill="#404040" stroke="#404040" stroke-width="0.17">BFAR</text>
<rect x="175.76" y="543.55" width="2.50" height="56.05" fill="#E46C0A" stroke="#7a4a2a" stroke-width="0.3"/>
<text x="0" y="0" transform="translate(180.01,609.30) rotate(-45)" font-size="6.8" text-anchor="end" font-weight="normal" fill="#404040" stroke="#404040" stroke-width="0.17">TNFAIP3</text>
<rect x="186.45" y="550.56" width="2.50" height="49.04" fill="#E46C0A" stroke="#7a4a2a" stroke-width="0.3"/>
<text x="0" y="0" transform="translate(190.70,609.30) rotate(-45)" font-size="6.8" text-anchor="end" font-weight="normal" fill="#404040" stroke="#404040" stroke-width="0.17">TAC1</text>
<rect x="197.14" y="557.56" width="2.50" height="42.04" fill="#0070C0" stroke="#1a4a7a" stroke-width="0.3"/>
<text x="0" y="0" transform="translate(201.39,609.30) rotate(-45)" font-size="6.8" text-anchor="end" font-weight="normal" fill="#404040" stroke="#404040" stroke-width="0.17">ADAM8</text>
<rect x="207.83" y="557.56" width="2.50" height="42.04" fill="#E46C0A" stroke="#7a4a2a" stroke-width="0.3"/>
<text x="0" y="0" transform="translate(212.08,609.30) rotate(-45)" font-size="6.8" text-anchor="end" font-weight="normal" fill="#404040" stroke="#404040" stroke-width="0.17">BTK</text>
<rect x="218.52" y="557.56" width="2.50" height="42.04" fill="#0070C0" stroke="#1a4a7a" stroke-width="0.3"/>
<text x="0" y="0" transform="translate(222.77,609.30) rotate(-45)" font-size="6.8" text-anchor="end" font-weight="normal" fill="#404040" stroke="#404040" stroke-width="0.17">DGKI</text>
<rect x="229.21" y="557.56" width="2.50" height="42.04" fill="#0070C0" stroke="#1a4a7a" stroke-width="0.3"/>
<text x="0" y="0" transform="translate(233.46,609.30) rotate(-45)" font-size="6.8" text-anchor="end" font-weight="normal" fill="#404040" stroke="#404040" stroke-width="0.17">LTF</text>
<rect x="239.90" y="557.56" width="2.50" height="42.04" fill="#E46C0A" stroke="#7a4a2a" stroke-width="0.3"/>
<text x="0" y="0" transform="translate(244.15,609.30) rotate(-45)" font-size="6.8" text-anchor="end" font-weight="normal" fill="#404040" stroke="#404040" stroke-width="0.17">NAPA</text>
<rect x="250.59" y="557.56" width="2.50" height="42.04" fill="#E46C0A" stroke="#7a4a2a" stroke-width="0.3"/>
<text x="0" y="0" transform="translate(254.84,609.30) rotate(-45)" font-size="6.8" text-anchor="end" font-weight="normal" fill="#404040" stroke="#404040" stroke-width="0.17">POLD1</text>
<rect x="261.28" y="564.57" width="2.50" height="35.03" fill="#E46C0A" stroke="#7a4a2a" stroke-width="0.3"/>
<text x="0" y="0" transform="translate(265.53,609.30) rotate(-45)" font-size="6.8" text-anchor="end" font-weight="normal" fill="#404040" stroke="#404040" stroke-width="0.17">CYLD</text>
<rect x="271.97" y="564.57" width="2.50" height="35.03" fill="#E46C0A" stroke="#7a4a2a" stroke-width="0.3"/>
<text x="0" y="0" transform="translate(276.22,609.30) rotate(-45)" font-size="6.8" text-anchor="end" font-weight="normal" fill="#404040" stroke="#404040" stroke-width="0.17">DDX3X</text>
<rect x="282.66" y="564.57" width="2.50" height="35.03" fill="#E46C0A" stroke="#7a4a2a" stroke-width="0.3"/>
<text x="0" y="0" transform="translate(286.91,609.30) rotate(-45)" font-size="6.8" text-anchor="end" font-weight="normal" fill="#404040" stroke="#404040" stroke-width="0.17">GRB10</text>
<rect x="293.35" y="564.57" width="2.50" height="35.03" fill="#E46C0A" stroke="#7a4a2a" stroke-width="0.3"/>
<text x="0" y="0" transform="translate(297.60,609.30) rotate(-45)" font-size="6.8" text-anchor="end" font-weight="normal" fill="#404040" stroke="#404040" stroke-width="0.17">HDAC9</text>
<rect x="304.04" y="564.57" width="2.50" height="35.03" fill="#0070C0" stroke="#1a4a7a" stroke-width="0.3"/>
<text x="0" y="0" transform="translate(308.29,609.30) rotate(-45)" font-size="6.8" text-anchor="end" font-weight="normal" fill="#404040" stroke="#404040" stroke-width="0.17">LONP1</text>
<rect x="314.73" y="564.57" width="2.50" height="35.03" fill="#E46C0A" stroke="#7a4a2a" stroke-width="0.3"/>
<text x="0" y="0" transform="translate(318.98,609.30) rotate(-45)" font-size="6.8" text-anchor="end" font-weight="normal" fill="#404040" stroke="#404040" stroke-width="0.17">NELL2</text>
<rect x="325.42" y="564.57" width="2.50" height="35.03" fill="#0070C0" stroke="#1a4a7a" stroke-width="0.3"/>
<text x="0" y="0" transform="translate(329.67,609.30) rotate(-45)" font-size="6.8" text-anchor="end" font-weight="normal" fill="#404040" stroke="#404040" stroke-width="0.17">OPRM1</text>
<rect x="336.11" y="564.57" width="2.50" height="35.03" fill="#E46C0A" stroke="#7a4a2a" stroke-width="0.3"/>
<text x="0" y="0" transform="translate(340.36,609.30) rotate(-45)" font-size="6.8" text-anchor="end" font-weight="normal" fill="#404040" stroke="#404040" stroke-width="0.17">RAB27A</text>
<rect x="346.80" y="564.57" width="2.50" height="35.03" fill="#0070C0" stroke="#1a4a7a" stroke-width="0.3"/>
<text x="0" y="0" transform="translate(351.05,609.30) rotate(-45)" font-size="6.8" text-anchor="end" font-weight="normal" fill="#404040" stroke="#404040" stroke-width="0.17">RHOT1</text>
<rect x="357.49" y="564.57" width="2.50" height="35.03" fill="#E46C0A" stroke="#7a4a2a" stroke-width="0.3"/>
<text x="0" y="0" transform="translate(361.74,609.30) rotate(-45)" font-size="6.8" text-anchor="end" font-weight="normal" fill="#404040" stroke="#404040" stroke-width="0.17">TNIP1</text>
<text x="0" y="0" transform="translate(5.20,536.50) rotate(-90)" font-size="6.34" text-anchor="middle" font-weight="bold" fill="#1a1a1a">Number of enriched biological function</text>
<text x="194.10" y="640.00" font-size="6.44" text-anchor="middle" font-weight="bold" fill="#1a1a1a">Reported differentially expressed genes in AD</text>
<text x="5.50" y="448.40" font-size="7.8" text-anchor="start" font-weight="bold" fill="#262626">(c)</text>
<line x1="398.30" y1="473.78" x2="398.30" y2="597.30" stroke="#d9d9d9" stroke-width="1"/>
<line x1="396.30" y1="597.30" x2="398.30" y2="597.30" stroke="#d9d9d9" stroke-width="0.8"/>
<text x="393.10" y="599.65" font-size="6.5" text-anchor="end" font-weight="normal" fill="#404040" stroke="#404040" stroke-width="0.15">0</text>
<line x1="396.30" y1="581.86" x2="398.30" y2="581.86" stroke="#d9d9d9" stroke-width="0.8"/>
<text x="393.10" y="584.21" font-size="6.5" text-anchor="end" font-weight="normal" fill="#404040" stroke="#404040" stroke-width="0.15">2</text>
<line x1="396.30" y1="566.42" x2="398.30" y2="566.42" stroke="#d9d9d9" stroke-width="0.8"/>
<text x="393.10" y="568.77" font-size="6.5" text-anchor="end" font-weight="normal" fill="#404040" stroke="#404040" stroke-width="0.15">4</text>
<line x1="396.30" y1="550.98" x2="398.30" y2="550.98" stroke="#d9d9d9" stroke-width="0.8"/>
<text x="393.10" y="553.33" font-size="6.5" text-anchor="end" font-weight="normal" fill="#404040" stroke="#404040" stroke-width="0.15">6</text>
<line x1="396.30" y1="535.54" x2="398.30" y2="535.54" stroke="#d9d9d9" stroke-width="0.8"/>
<text x="393.10" y="537.89" font-size="6.5" text-anchor="end" font-weight="normal" fill="#404040" stroke="#404040" stroke-width="0.15">8</text>
<line x1="396.30" y1="520.10" x2="398.30" y2="520.10" stroke="#d9d9d9" stroke-width="0.8"/>
<text x="393.10" y="522.45" font-size="6.5" text-anchor="end" font-weight="normal" fill="#404040" stroke="#404040" stroke-width="0.15">10</text>
<line x1="396.30" y1="504.66" x2="398.30" y2="504.66" stroke="#d9d9d9" stroke-width="0.8"/>
<text x="393.10" y="507.01" font-size="6.5" text-anchor="end" font-weight="normal" fill="#404040" stroke="#404040" stroke-width="0.15">12</text>
<line x1="396.30" y1="489.22" x2="398.30" y2="489.22" stroke="#d9d9d9" stroke-width="0.8"/>
<text x="393.10" y="491.57" font-size="6.5" text-anchor="end" font-weight="normal" fill="#404040" stroke="#404040" stroke-width="0.15">14</text>
<line x1="396.30" y1="473.78" x2="398.30" y2="473.78" stroke="#d9d9d9" stroke-width="0.8"/>
<text x="393.10" y="476.13" font-size="6.5" text-anchor="end" font-weight="normal" fill="#404040" stroke="#404040" stroke-width="0.15">16</text>
<line x1="398.30" y1="597.30" x2="685.00" y2="597.30" stroke="#d9d9d9" stroke-width="1"/>
<rect x="403.20" y="489.22" width="3.60" height="108.08" fill="#0070C0" stroke="#1a4a7a" stroke-width="0.3"/>
<text x="0" y="0" transform="translate(407.40,607.30) rotate(-45)" font-size="6.8" text-anchor="end" font-weight="normal" fill="#404040" stroke="#404040" stroke-width="0.17">DAB2IP</text>
<rect x="416.85" y="504.66" width="3.60" height="92.64" fill="#FF6600" stroke="#7a4a2a" stroke-width="0.3"/>
<text x="0" y="0" transform="translate(421.05,607.30) rotate(-45)" font-size="6.8" text-anchor="end" font-weight="normal" fill="#404040" stroke="#404040" stroke-width="0.17">ZBTB7C</text>
<rect x="430.50" y="520.10" width="3.60" height="77.20" fill="#FF6600" stroke="#7a4a2a" stroke-width="0.3"/>
<text x="0" y="0" transform="translate(434.70,607.30) rotate(-45)" font-size="6.8" text-anchor="end" font-weight="normal" fill="#404040" stroke="#404040" stroke-width="0.17">SFTPA1</text>
<rect x="444.15" y="535.54" width="3.60" height="61.76" fill="#FF6600" stroke="#7a4a2a" stroke-width="0.3"/>
<text x="0" y="0" transform="translate(448.35,607.30) rotate(-45)" font-size="6.8" text-anchor="end" font-weight="normal" fill="#404040" stroke="#404040" stroke-width="0.17">NTSR1</text>
<rect x="457.80" y="535.54" width="3.60" height="61.76" fill="#0070C0" stroke="#1a4a7a" stroke-width="0.3"/>
<text x="0" y="0" transform="translate(462.00,607.30) rotate(-45)" font-size="6.8" text-anchor="end" font-weight="normal" fill="#404040" stroke="#404040" stroke-width="0.17">SOD2</text>
<rect x="471.45" y="535.54" width="3.60" height="61.76" fill="#FF6600" stroke="#7a4a2a" stroke-width="0.3"/>
<text x="0" y="0" transform="translate(475.65,607.30) rotate(-45)" font-size="6.8" text-anchor="end" font-weight="normal" fill="#404040" stroke="#404040" stroke-width="0.17">UNC13B</text>
<rect x="485.10" y="543.26" width="3.60" height="54.04" fill="#FF6600" stroke="#7a4a2a" stroke-width="0.3"/>
<text x="0" y="0" transform="translate(489.30,607.30) rotate(-45)" font-size="6.8" text-anchor="end" font-weight="normal" fill="#404040" stroke="#404040" stroke-width="0.17">FLOT1</text>
<rect x="498.75" y="543.26" width="3.60" height="54.04" fill="#FF6600" stroke="#7a4a2a" stroke-width="0.3"/>
<text x="0" y="0" transform="translate(502.95,607.30) rotate(-45)" font-size="6.8" text-anchor="end" font-weight="normal" fill="#404040" stroke="#404040" stroke-width="0.17">LEPR</text>
<rect x="512.40" y="543.26" width="3.60" height="54.04" fill="#0070C0" stroke="#1a4a7a" stroke-width="0.3"/>
<text x="0" y="0" transform="translate(516.60,607.30) rotate(-45)" font-size="6.8" text-anchor="end" font-weight="normal" fill="#404040" stroke="#404040" stroke-width="0.17">PIK3R2</text>
<rect x="526.05" y="550.98" width="3.60" height="46.32" fill="#0070C0" stroke="#1a4a7a" stroke-width="0.3"/>
<text x="0" y="0" transform="translate(530.25,607.30) rotate(-45)" font-size="6.8" text-anchor="end" font-weight="normal" fill="#404040" stroke="#404040" stroke-width="0.17">CACNA1C</text>
<rect x="539.70" y="550.98" width="3.60" height="46.32" fill="#0070C0" stroke="#1a4a7a" stroke-width="0.3"/>
<text x="0" y="0" transform="translate(543.90,607.30) rotate(-45)" font-size="6.8" text-anchor="end" font-weight="normal" fill="#404040" stroke="#404040" stroke-width="0.17">FPR3</text>
<rect x="553.35" y="550.98" width="3.60" height="46.32" fill="#0070C0" stroke="#1a4a7a" stroke-width="0.3"/>
<text x="0" y="0" transform="translate(557.55,607.30) rotate(-45)" font-size="6.8" text-anchor="end" font-weight="normal" fill="#404040" stroke="#404040" stroke-width="0.17">JAG2</text>
<rect x="567.00" y="550.98" width="3.60" height="46.32" fill="#FF6600" stroke="#7a4a2a" stroke-width="0.3"/>
<text x="0" y="0" transform="translate(571.20,607.30) rotate(-45)" font-size="6.8" text-anchor="end" font-weight="normal" fill="#404040" stroke="#404040" stroke-width="0.17">POSTN</text>
<rect x="580.65" y="550.98" width="3.60" height="46.32" fill="#0070C0" stroke="#1a4a7a" stroke-width="0.3"/>
<text x="0" y="0" transform="translate(584.85,607.30) rotate(-45)" font-size="6.8" text-anchor="end" font-weight="normal" fill="#404040" stroke="#404040" stroke-width="0.17">TSC2</text>
<rect x="594.30" y="558.70" width="3.60" height="38.60" fill="#0070C0" stroke="#1a4a7a" stroke-width="0.3"/>
<text x="0" y="0" transform="translate(598.50,607.30) rotate(-45)" font-size="6.8" text-anchor="end" font-weight="normal" fill="#404040" stroke="#404040" stroke-width="0.17">CASP9</text>
<rect x="607.95" y="558.70" width="3.60" height="38.60" fill="#0070C0" stroke="#1a4a7a" stroke-width="0.3"/>
<text x="0" y="0" transform="translate(612.15,607.30) rotate(-45)" font-size="6.8" text-anchor="end" font-weight="normal" fill="#404040" stroke="#404040" stroke-width="0.17">CCAR2</text>
<rect x="621.60" y="558.70" width="3.60" height="38.60" fill="#0070C0" stroke="#1a4a7a" stroke-width="0.3"/>
<text x="0" y="0" transform="translate(625.80,607.30) rotate(-45)" font-size="6.8" text-anchor="end" font-weight="normal" fill="#404040" stroke="#404040" stroke-width="0.17">HARS</text>
<rect x="635.25" y="558.70" width="3.60" height="38.60" fill="#0070C0" stroke="#1a4a7a" stroke-width="0.3"/>
<text x="0" y="0" transform="translate(639.45,607.30) rotate(-45)" font-size="6.8" text-anchor="end" font-weight="normal" fill="#404040" stroke="#404040" stroke-width="0.17">HSPA8</text>
<rect x="648.90" y="558.70" width="3.60" height="38.60" fill="#0070C0" stroke="#1a4a7a" stroke-width="0.3"/>
<text x="0" y="0" transform="translate(653.10,607.30) rotate(-45)" font-size="6.8" text-anchor="end" font-weight="normal" fill="#404040" stroke="#404040" stroke-width="0.17">MEN1</text>
<rect x="662.55" y="558.70" width="3.60" height="38.60" fill="#0070C0" stroke="#1a4a7a" stroke-width="0.3"/>
<text x="0" y="0" transform="translate(666.75,607.30) rotate(-45)" font-size="6.8" text-anchor="end" font-weight="normal" fill="#404040" stroke="#404040" stroke-width="0.17">NR1H2</text>
<rect x="676.20" y="558.70" width="3.60" height="38.60" fill="#0070C0" stroke="#1a4a7a" stroke-width="0.3"/>
<text x="0" y="0" transform="translate(680.40,607.30) rotate(-45)" font-size="6.8" text-anchor="end" font-weight="normal" fill="#404040" stroke="#404040" stroke-width="0.17">VPS51</text>
<text x="0" y="0" transform="translate(379.70,537.00) rotate(-90)" font-size="6.5" text-anchor="middle" font-weight="bold" fill="#1a1a1a">Number of enriched biological functions</text>
<text x="541.30" y="640.00" font-size="6.42" text-anchor="middle" font-weight="bold" fill="#1a1a1a">Novel differentially expressed genes</text>
<text x="393.70" y="462.00" font-size="7.9" text-anchor="start" font-weight="bold" fill="#262626">(d)</text>
</svg>
</body></html>
